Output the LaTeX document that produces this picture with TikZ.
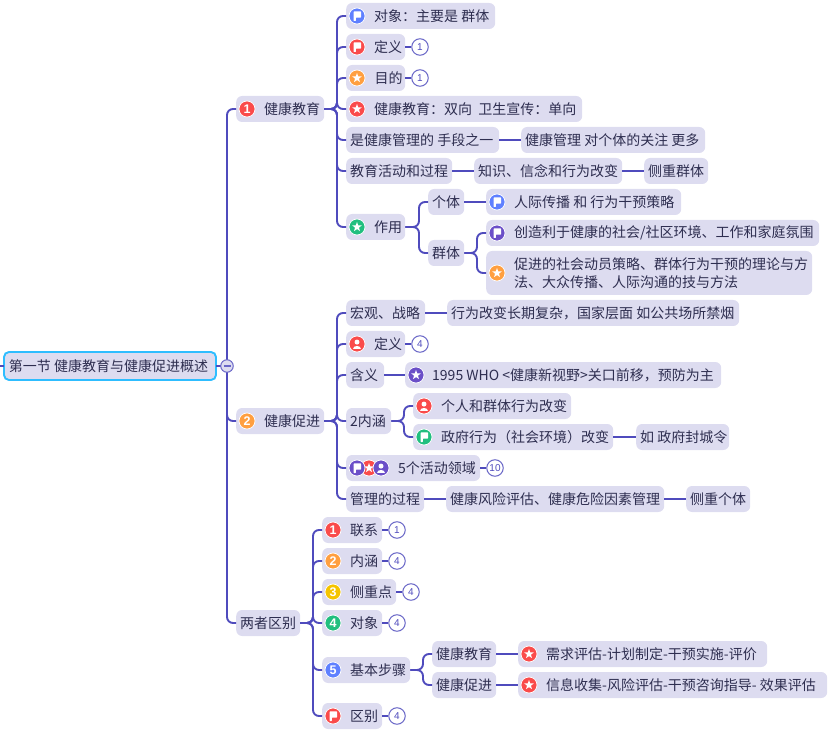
\documentclass[tikz,border=0pt]{standalone}
\usepackage{fontspec}
\setmainfont{Noto Sans CJK SC}
\newfontfamily\numf{Liberation Sans}
\usetikzlibrary{shapes.geometric,calc}
\definecolor{boxc}{HTML}{DDDCF0}
\definecolor{linec}{HTML}{4F4BBD}
\definecolor{textc}{HTML}{2E2E50}
\definecolor{rootc}{HTML}{2EBDFF}
\definecolor{icblue}{HTML}{5F80FF}
\definecolor{icred}{HTML}{FA4B4B}
\definecolor{icorange}{HTML}{FF9F40}
\definecolor{icgreen}{HTML}{21BF7F}
\definecolor{icpurple}{HTML}{6B4FC8}
\definecolor{icyellow}{HTML}{F5C400}
\tikzset{
  box/.style={fill=boxc,rounded corners=6pt,anchor=west,inner xsep=0pt,inner ysep=0pt,minimum height=26pt,text=textc,font=\fontsize{14}{18}\selectfont},
  conn/.style={draw=linec,line width=1.9pt},
  ico/.style={circle,fill=#1,draw=white,line width=.7pt,minimum size=16pt,inner sep=0pt,text=white,font=\numf\bfseries\fontsize{12.5}{12.5}\selectfont},
  badge/.style={circle,fill=white,draw=linec!85,line width=1pt,minimum size=16.5pt,inner sep=0pt,text=linec,font=\numf\fontsize{10}{10}\selectfont},
  starg/.style={star,star points=5,star point ratio=2.4,fill=white,minimum size=10pt,inner sep=0pt},
}
% box: name, x0, x1, cy, lead, text
\newcommand{\bxx}[6]{\node[box,minimum width={#3pt-#2pt}] (#1) at (#2,#4) {\makebox[\dimexpr#3pt-#2pt\relax][l]{\hspace{#5pt}#6}};}
% parent -> bracket -> child
\newcommand{\kid}[3]{\draw[conn,rounded corners=6pt] (#3.west) -| (#1.east -| #2) [sharp corners] -- (#1.east);}
\newcommand{\lnk}[2]{\draw[conn] (#1.east) -- (#2.west);}
\newcommand{\bdg}[4]{\node[badge] (#1) at (#3,{#2}) {#4};}
% icons: name, box, xoffset, colour
\newcommand{\icflag}[4]{\node[ico=#4] (#1) at ([xshift=#3pt]#2.west) {};
  \fill[white,rounded corners=.5pt,shift={(#1.center)}] (-3.4,-4.6) -- (4,-4.6) -- (4,1.6) -- (-1.2,1.6) -- (-1.2,5) -- (-3.4,5) -- cycle;}
\newcommand{\icstar}[4]{\node[ico=#4] (#1) at ([xshift=#3pt]#2.west) {};
  \node[starg] (#1g) at (#1.center) {};}
\newcommand{\icnum}[5]{\node[ico=#4] (#1) at ([xshift=#3pt]#2.west) {#5};}
\newcommand{\icman}[4]{\node[ico=#4] (#1) at ([xshift=#3pt]#2.west) {};
  \fill[white,shift={(#1.center)}] (0,-1.9) circle (2.5);
  \fill[white,shift={(#1.center)}] (-4.3,4.5) .. controls (-4.3,0.8) and (4.3,0.8) .. (4.3,4.5) -- cycle;}
\begin{document}
\begin{tikzpicture}[x=1pt,y=-1pt]
\useasboundingbox (0,0) rectangle (828,730);
\coordinate (b0) at (227,0);
\coordinate (b1) at (337,0);
\coordinate (b2) at (419,0);
\coordinate (b3) at (477,0);
\coordinate (b4) at (404,0);
\coordinate (b5) at (313,0);
\coordinate (b6) at (423,0);
\coordinate (lft) at (0,366);
% root
\node[box,minimum width=212pt,minimum height=28pt,draw=rootc,line width=1.9pt,rounded corners=5pt,outer sep=0pt] (root) at (4,366) {\makebox[212pt][l]{\hspace{5pt}第一节 健康教育与健康促进概述}};
% level 1
\bxx{a}{236}{324}{109}{28}{健康教育}
\bxx{b}{236}{324}{421}{28}{健康促进}
\bxx{c}{236}{300}{623}{4}{两者区别}
% a children
\bxx{a1}{346}{495}{16}{28}{对象：主要是 群体}
\bxx{a2}{346}{405}{47}{28}{定义}
\bxx{a3}{346}{405}{78}{28.5}{目的}
\bxx{a4}{346}{582}{109}{28}{健康教育：双向 \ 卫生宣传：单向}
\bxx{a5}{346}{499}{140}{4}{是健康管理的 手段之一}
\bxx{a5x}{521}{705}{140}{4}{健康管理 对个体的关注 更多}
\bxx{a6}{346}{452}{171}{4}{教育活动和过程}
\bxx{a6x}{474}{622}{171}{4}{知识、信念和行为改变}
\bxx{a6y}{644}{708}{171}{4}{侧重群体}
\bxx{a7}{346}{405}{227}{28}{作用}
\bxx{a7a}{428}{464}{202}{4}{个体}
\bxx{a7ax}{486}{681}{202}{28}{人际传播 和 行为干预策略}
\bxx{a7b}{428}{464}{253}{4}{群体}
\bxx{a7bx}{486}{819}{233}{28}{创造利于健康的社会/社区环境、工作和家庭氛围}
\node[box,minimum width=326pt,minimum height=44pt] (a7by) at (486,273) {\makebox[326pt][l]{\hspace{28pt}\parbox{294pt}{\lineskiplimit=-10pt\baselineskip=18pt 促进的社会动员策略、群体行为干预的理论与方\\法、大众传播、人际沟通的技与方法}}};
% b children
\bxx{b1x}{346}{425}{313}{4}{宏观、战略}
\bxx{b1y}{447}{739}{313}{4}{行为改变长期复杂，国家层面 如公共场所禁烟}
\bxx{b2x}{346}{405}{344}{28}{定义}
\bxx{b3x}{346}{384}{375}{4}{含义}
\bxx{b3y}{405}{721}{375}{27}{1995 WHO <健康新视野>关口前移，预防为主}
\bxx{b4x}{346}{391}{421}{4}{2内涵}
\bxx{b4a}{413}{571}{406}{28}{个人和群体行为改变}
\bxx{b4b}{413}{613}{437}{28}{政府行为（社会环境）改变}
\bxx{b4c}{636}{729}{437}{4}{如 政府封城令}
\bxx{b5x}{346}{480}{468}{52}{5个活动领域}
\bxx{b6x}{346}{424}{499}{4}{管理的过程}
\bxx{b6y}{446}{664}{499}{4}{健康风险评估、健康危险因素管理}
\bxx{b6z}{686}{750}{499}{4}{侧重个体}
% c children
\bxx{c1}{322}{382}{530}{28}{联系}
\bxx{c2}{322}{382}{561}{28}{内涵}
\bxx{c3}{322}{396}{592}{28}{侧重点}
\bxx{c4}{322}{382}{623}{28}{对象}
\bxx{c5}{322}{410}{670}{28}{基本步骤}
\bxx{c5a}{432}{496}{654}{4}{健康教育}
\bxx{c5ax}{518}{767}{654}{28}{需求评估-计划制定-干预实施-评价}
\bxx{c5b}{432}{496}{685}{4}{健康促进}
\bxx{c5bx}{518}{827}{685}{28}{信息收集-风险评估-干预咨询指导- 效果评估}
\bxx{c6}{322}{382}{716}{28}{区别}
% badges
\bdg{ba2}{47}{420}{1}
\bdg{ba3}{78}{420}{1}
\bdg{bb2}{344}{420}{4}
\bdg{bb5}{468}{495}{10}
\bdg{bc1}{530}{397}{1}
\bdg{bc2}{561}{397}{4}
\bdg{bc3}{592}{411}{4}
\bdg{bc4}{623}{397}{4}
\bdg{bc6}{716}{397}{4}
% connectors
\draw[conn] (lft) -- (root.west);
\foreach \k in {a,b,c} {\kid{root}{b0}{\k}}
\foreach \k in {a1,a2,a3,a4,a5,a6,a7} {\kid{a}{b1}{\k}}
\lnk{a2}{ba2}\lnk{a3}{ba3}\lnk{a5}{a5x}\lnk{a6}{a6x}\lnk{a6x}{a6y}
\kid{a7}{b2}{a7a}\kid{a7}{b2}{a7b}\lnk{a7a}{a7ax}
\kid{a7b}{b3}{a7bx}\kid{a7b}{b3}{a7by}
\foreach \k in {b1x,b2x,b3x,b4x,b5x,b6x} {\kid{b}{b1}{\k}}
\lnk{b1x}{b1y}\lnk{b2x}{bb2}\lnk{b3x}{b3y}\lnk{b5x}{bb5}\lnk{b6x}{b6y}\lnk{b6y}{b6z}
\kid{b4x}{b4}{b4a}\kid{b4x}{b4}{b4b}\lnk{b4b}{b4c}
\foreach \k in {c1,c2,c3,c4,c5,c6} {\kid{c}{b5}{\k}}
\lnk{c1}{bc1}\lnk{c2}{bc2}\lnk{c3}{bc3}\lnk{c4}{bc4}\lnk{c6}{bc6}
\kid{c5}{b6}{c5a}\kid{c5}{b6}{c5b}\lnk{c5a}{c5ax}\lnk{c5b}{c5bx}
% fold button
\node[circle,fill=boxc,draw=linec!85,line width=1pt,minimum size=12.5pt,inner sep=0pt] (fold) at (227,366) {};
\draw[draw=linec!85,line width=1.1pt] ([xshift=-3.5pt]fold.center) -- ([xshift=3.5pt]fold.center);
% icons
\icnum{ia}{a}{11}{icred}{1}
\icnum{ib}{b}{11}{icorange}{2}
\icflag{ia1}{a1}{11}{icblue}
\icflag{ia2}{a2}{11}{icred}
\icstar{ia3}{a3}{11}{icorange}
\icstar{ia4}{a4}{11}{icred}
\icstar{ia7}{a7}{11}{icgreen}
\icflag{ia7ax}{a7ax}{11}{icblue}
\icflag{ia7bx}{a7bx}{11}{icpurple}
\icstar{ia7by}{a7by}{11}{icorange}
\icman{ib2}{b2x}{11}{icred}
\icstar{ib3}{b3y}{11}{icpurple}
\icman{ib4a}{b4a}{11}{icred}
\icflag{ib4b}{b4b}{11}{icgreen}
\icstar{ib5b}{b5x}{23}{icred}
\icflag{ib5a}{b5x}{11}{icpurple}
\icman{ib5c}{b5x}{35}{icpurple}
\icnum{ic1}{c1}{11}{icred}{1}
\icnum{ic2}{c2}{11}{icorange}{2}
\icnum{ic3}{c3}{11}{icyellow}{3}
\icnum{ic4}{c4}{11}{icgreen}{4}
\icnum{ic5}{c5}{11}{icblue}{5}
\icflag{ic6}{c6}{11}{icred}
\icstar{ic5ax}{c5ax}{11}{icred}
\icstar{ic5bx}{c5bx}{11}{icred}
\end{tikzpicture}
\end{document}
